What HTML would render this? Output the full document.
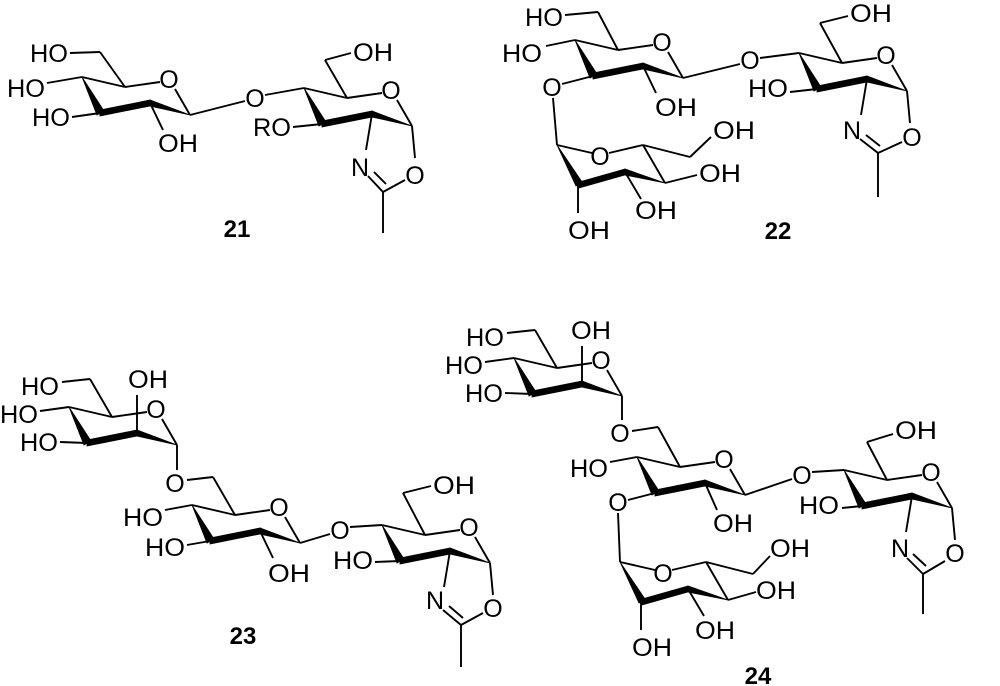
<!DOCTYPE html>
<html><head><meta charset="utf-8"><style>
html,body{margin:0;padding:0;background:#fff;}
svg{display:block;}
text{font-family:"Liberation Sans",sans-serif;font-size:25px;fill:#000;}
.e{text-anchor:end;}
.m{text-anchor:middle;}
.b{font-weight:bold;text-anchor:middle;font-size:24px;}
line{stroke:#000;stroke-width:1.9;}
polygon{fill:#000;stroke:#000;stroke-width:0.8;}
</style></head><body>
<svg width="1000" height="686" viewBox="0 0 1000 686" xmlns="http://www.w3.org/2000/svg">

<!-- ============ 21 ============ -->
<g transform="translate(125,87)">
 <line x1="0" y1="0" x2="-43" y2="-10"/>
 <polygon points="-43,-10 -21,24 -28,28"/>
 <polygon points="-25,23 25,13 25,19 -25,29"/>
 <polygon points="25,13 25,19 65,28"/>
 <line x1="0" y1="0" x2="35" y2="-5"/><line x1="50" y1="2" x2="65" y2="28"/>
 <text class="m" x="44" y="1">O</text>
 <line x1="0" y1="0" x2="-25" y2="-35"/><line x1="-25" y1="-35" x2="-55" y2="-34"/>
 <text class="e" x="-57" y="-25" textLength="38" lengthAdjust="spacingAndGlyphs">HO</text>
 <line x1="-43" y1="-10" x2="-78" y2="-4"/>
 <text class="e" x="-80" y="10" textLength="38" lengthAdjust="spacingAndGlyphs">HO</text>
 <line x1="-25" y1="26" x2="-53" y2="30"/>
 <text class="e" x="-55" y="39" textLength="38" lengthAdjust="spacingAndGlyphs">HO</text>
 <line x1="25" y1="16" x2="38" y2="43"/>
 <text x="33" y="65" textLength="40" lengthAdjust="spacingAndGlyphs">OH</text>
</g>
<line x1="190" y1="115" x2="245" y2="101"/>
<text class="m" x="255" y="107">O</text>
<line x1="265" y1="95" x2="304" y2="88"/>
<g transform="translate(347,98)">
 <line x1="0" y1="0" x2="-43" y2="-10"/>
 <polygon points="-43,-10 -21,24 -28,28"/>
 <polygon points="-25,23 25,13 25,19 -25,29"/>
 <polygon points="25,13 25,19 65,28"/>
 <line x1="0" y1="0" x2="35" y2="-5"/><line x1="50" y1="2" x2="65" y2="28"/>
 <text class="m" x="44" y="1">O</text>
 <line x1="0" y1="0" x2="-22" y2="-38"/><line x1="-22" y1="-38" x2="4" y2="-45"/>
 <text x="6" y="-37" textLength="40" lengthAdjust="spacingAndGlyphs">OH</text>
 <line x1="-25" y1="26" x2="-54" y2="29"/>
 <text class="e" x="-56" y="38" textLength="38" lengthAdjust="spacingAndGlyphs">RO</text>
 <line x1="25" y1="16" x2="19" y2="52"/>
 <text class="m" x="13" y="78">N</text>
 <line x1="65" y1="28" x2="68" y2="60"/>
 <text class="m" x="68" y="86">O</text>
 <line x1="21" y1="78" x2="36" y2="94"/><line x1="27" y1="74" x2="39" y2="86"/>
 <line x1="36" y1="94" x2="58" y2="82"/>
 <line x1="36" y1="94" x2="36" y2="135"/>
</g>
<text class="b" x="237" y="237">21</text>

<!-- ============ 22 ============ -->
<g transform="translate(618,50)">
 <line x1="0" y1="0" x2="-43" y2="-10"/>
 <polygon points="-43,-10 -21,24 -28,28"/>
 <polygon points="-25,23 25,13 25,19 -25,29"/>
 <polygon points="25,13 25,19 65,28"/>
 <line x1="0" y1="0" x2="35" y2="-5"/><line x1="50" y1="2" x2="65" y2="28"/>
 <text class="m" x="44" y="1">O</text>
 <line x1="0" y1="0" x2="-20" y2="-38"/><line x1="-20" y1="-38" x2="-53" y2="-35"/>
 <text class="e" x="-55" y="-24" textLength="38" lengthAdjust="spacingAndGlyphs">HO</text>
 <line x1="-43" y1="-10" x2="-72" y2="-4"/>
 <text class="e" x="-76" y="12" textLength="40" lengthAdjust="spacingAndGlyphs">HO</text>
 <line x1="-25" y1="26" x2="-56" y2="34"/>
 <text class="m" x="-66" y="46">O</text>
 <line x1="25" y1="16" x2="38" y2="43"/>
 <text x="37" y="66" textLength="42" lengthAdjust="spacingAndGlyphs">OH</text>
</g>
<line x1="683" y1="78" x2="740" y2="64"/>
<text class="m" x="750" y="69">O</text>
<line x1="760" y1="58" x2="799" y2="53"/>
<g transform="translate(842,63)">
 <line x1="0" y1="0" x2="-43" y2="-10"/>
 <polygon points="-43,-10 -21,24 -28,28"/>
 <polygon points="-25,23 25,13 25,19 -25,29"/>
 <polygon points="25,13 25,19 65,28"/>
 <line x1="0" y1="0" x2="35" y2="-5"/><line x1="50" y1="2" x2="65" y2="28"/>
 <text class="m" x="44" y="1">O</text>
 <line x1="0" y1="0" x2="-22" y2="-40"/><line x1="-22" y1="-40" x2="6" y2="-47"/>
 <text x="8" y="-41" textLength="42" lengthAdjust="spacingAndGlyphs">OH</text>
 <line x1="-25" y1="26" x2="-52" y2="29"/>
 <text class="e" x="-54" y="34" textLength="40" lengthAdjust="spacingAndGlyphs">HO</text>
 <line x1="25" y1="16" x2="19" y2="52"/>
 <text class="m" x="10" y="76">N</text>
 <line x1="65" y1="28" x2="68" y2="60"/>
 <text class="m" x="70" y="83">O</text>
 <line x1="18" y1="76" x2="36" y2="90"/><line x1="24" y1="72" x2="38" y2="83"/>
 <line x1="36" y1="90" x2="60" y2="79"/>
 <line x1="36" y1="90" x2="36" y2="134"/>
</g>
<line x1="553" y1="98" x2="557" y2="145"/>
<g transform="translate(557,145)">
 <line x1="0" y1="0" x2="35" y2="8"/>
 <text class="m" x="43" y="20">O</text>
 <line x1="52" y1="8" x2="86" y2="0"/>
 <line x1="86" y1="0" x2="108" y2="38"/>
 <polygon points="108,38 68,24 68,30"/>
 <polygon points="68,24 68,30 22,43 22,37"/>
 <polygon points="0,0 19,41 25,37"/>
 <line x1="86" y1="0" x2="133" y2="12"/><line x1="133" y1="12" x2="154" y2="-8"/>
 <text x="156" y="-6" textLength="42" lengthAdjust="spacingAndGlyphs">OH</text>
 <line x1="108" y1="38" x2="140" y2="30"/>
 <text x="142" y="37" textLength="42" lengthAdjust="spacingAndGlyphs">OH</text>
 <line x1="68" y1="27" x2="84" y2="54"/>
 <text x="78" y="74" textLength="42" lengthAdjust="spacingAndGlyphs">OH</text>
 <line x1="21" y1="40" x2="21" y2="68"/>
 <text x="11" y="94" textLength="42" lengthAdjust="spacingAndGlyphs">OH</text>
</g>
<text class="b" x="778" y="239">22</text>

<!-- ============ 23 ============ -->
<g transform="translate(112,417)">
 <line x1="0" y1="0" x2="-43" y2="-10"/>
 <polygon points="-43,-10 -21,24 -28,28"/>
 <polygon points="-25,23 25,13 25,19 -25,29"/>
 <polygon points="25,13 25,19 65,28"/>
 <line x1="0" y1="0" x2="35" y2="-5"/><line x1="50" y1="2" x2="65" y2="28"/>
 <text class="m" x="44" y="1">O</text>
 <line x1="25" y1="16" x2="25" y2="-22"/>
 <text x="16" y="-29" textLength="40" lengthAdjust="spacingAndGlyphs">OH</text>
 <line x1="0" y1="0" x2="-22" y2="-38"/><line x1="-22" y1="-38" x2="-50" y2="-35"/>
 <text class="e" x="-53" y="-22" textLength="38" lengthAdjust="spacingAndGlyphs">HO</text>
 <line x1="-43" y1="-10" x2="-72" y2="-6"/>
 <text class="e" x="-74" y="6" textLength="38" lengthAdjust="spacingAndGlyphs">HO</text>
 <line x1="-25" y1="26" x2="-52" y2="25"/>
 <text class="e" x="-54" y="34" textLength="38" lengthAdjust="spacingAndGlyphs">HO</text>
</g>
<line x1="177" y1="445" x2="177" y2="470"/>
<text class="m" x="175" y="492">O</text>
<line x1="187" y1="480" x2="213" y2="477"/>
<g transform="translate(235,515)">
 <line x1="0" y1="0" x2="-43" y2="-10"/>
 <polygon points="-43,-10 -21,24 -28,28"/>
 <polygon points="-25,23 25,13 25,19 -25,29"/>
 <polygon points="25,13 25,19 65,28"/>
 <line x1="0" y1="0" x2="35" y2="-5"/><line x1="50" y1="2" x2="65" y2="28"/>
 <text class="m" x="44" y="1">O</text>
 <line x1="0" y1="0" x2="-22" y2="-38"/>
 <line x1="-43" y1="-10" x2="-70" y2="-5"/>
 <text class="e" x="-72" y="11" textLength="40" lengthAdjust="spacingAndGlyphs">HO</text>
 <line x1="-25" y1="26" x2="-48" y2="30"/>
 <text class="e" x="-50" y="41" textLength="40" lengthAdjust="spacingAndGlyphs">HO</text>
 <line x1="25" y1="16" x2="38" y2="43"/>
 <text x="33" y="67" textLength="42" lengthAdjust="spacingAndGlyphs">OH</text>
</g>
<line x1="300" y1="543" x2="330" y2="534"/>
<text class="m" x="340" y="539">O</text>
<line x1="350" y1="527" x2="382" y2="525"/>
<g transform="translate(425,535)">
 <line x1="0" y1="0" x2="-43" y2="-10"/>
 <polygon points="-43,-10 -21,24 -28,28"/>
 <polygon points="-25,23 25,13 25,19 -25,29"/>
 <polygon points="25,13 25,19 65,28"/>
 <line x1="0" y1="0" x2="35" y2="-5"/><line x1="50" y1="2" x2="65" y2="28"/>
 <text class="m" x="44" y="1">O</text>
 <line x1="0" y1="0" x2="-22" y2="-42"/><line x1="-22" y1="-42" x2="6" y2="-49"/>
 <text x="8" y="-41" textLength="42" lengthAdjust="spacingAndGlyphs">OH</text>
 <line x1="-25" y1="26" x2="-50" y2="27"/>
 <text class="e" x="-52" y="34" textLength="40" lengthAdjust="spacingAndGlyphs">HO</text>
 <line x1="25" y1="16" x2="19" y2="52"/>
 <text class="m" x="10" y="74">N</text>
 <line x1="65" y1="28" x2="68" y2="60"/>
 <text class="m" x="68" y="82">O</text>
 <line x1="18" y1="75" x2="36" y2="90"/><line x1="24" y1="71" x2="38" y2="83"/>
 <line x1="36" y1="90" x2="58" y2="78"/>
 <line x1="36" y1="90" x2="36" y2="132"/>
</g>
<text class="b" x="243" y="644">23</text>

<!-- ============ 24 ============ -->
<g transform="translate(557,368)">
 <line x1="0" y1="0" x2="-43" y2="-10"/>
 <polygon points="-43,-10 -21,24 -28,28"/>
 <polygon points="-25,23 25,13 25,19 -25,29"/>
 <polygon points="25,13 25,19 65,28"/>
 <line x1="0" y1="0" x2="35" y2="-5"/><line x1="50" y1="2" x2="65" y2="28"/>
 <text class="m" x="44" y="1">O</text>
 <line x1="25" y1="16" x2="25" y2="-22"/>
 <text x="14" y="-29" textLength="40" lengthAdjust="spacingAndGlyphs">OH</text>
 <line x1="0" y1="0" x2="-22" y2="-38"/><line x1="-22" y1="-38" x2="-50" y2="-35"/>
 <text class="e" x="-53" y="-22" textLength="38" lengthAdjust="spacingAndGlyphs">HO</text>
 <line x1="-43" y1="-10" x2="-72" y2="-6"/>
 <text class="e" x="-74" y="6" textLength="38" lengthAdjust="spacingAndGlyphs">HO</text>
 <line x1="-25" y1="26" x2="-52" y2="25"/>
 <text class="e" x="-54" y="34" textLength="38" lengthAdjust="spacingAndGlyphs">HO</text>
</g>
<line x1="622" y1="396" x2="622" y2="420"/>
<text class="m" x="620" y="442">O</text>
<line x1="632" y1="431" x2="658" y2="427"/>
<g transform="translate(680,467)">
 <line x1="0" y1="0" x2="-43" y2="-10"/>
 <polygon points="-43,-10 -21,24 -28,28"/>
 <polygon points="-25,23 25,13 25,19 -25,29"/>
 <polygon points="25,13 25,19 65,28"/>
 <line x1="0" y1="0" x2="35" y2="-5"/><line x1="50" y1="2" x2="65" y2="28"/>
 <text class="m" x="44" y="1">O</text>
 <line x1="0" y1="0" x2="-22" y2="-40"/>
 <line x1="-43" y1="-10" x2="-70" y2="-5"/>
 <text class="e" x="-72" y="10" textLength="38" lengthAdjust="spacingAndGlyphs">HO</text>
 <line x1="-25" y1="26" x2="-52" y2="33"/>
 <text class="m" x="-62" y="44">O</text>
 <line x1="25" y1="16" x2="37" y2="43"/>
 <text x="33" y="65" textLength="40" lengthAdjust="spacingAndGlyphs">OH</text>
</g>
<line x1="618" y1="513" x2="620" y2="562"/>
<line x1="745" y1="495" x2="792" y2="479"/>
<text class="m" x="802" y="484">O</text>
<line x1="812" y1="472" x2="844" y2="470"/>
<g transform="translate(887,480)">
 <line x1="0" y1="0" x2="-43" y2="-10"/>
 <polygon points="-43,-10 -21,24 -28,28"/>
 <polygon points="-25,23 25,13 25,19 -25,29"/>
 <polygon points="25,13 25,19 65,28"/>
 <line x1="0" y1="0" x2="35" y2="-5"/><line x1="50" y1="2" x2="65" y2="28"/>
 <text class="m" x="44" y="1">O</text>
 <line x1="0" y1="0" x2="-20" y2="-38"/><line x1="-20" y1="-38" x2="6" y2="-46"/>
 <text x="8" y="-41" textLength="42" lengthAdjust="spacingAndGlyphs">OH</text>
 <line x1="-25" y1="26" x2="-45" y2="28"/>
 <text class="e" x="-48" y="34" textLength="40" lengthAdjust="spacingAndGlyphs">HO</text>
 <line x1="25" y1="16" x2="19" y2="52"/>
 <text class="m" x="13" y="77">N</text>
 <line x1="65" y1="28" x2="68" y2="60"/>
 <text class="m" x="68" y="82">O</text>
 <line x1="20" y1="78" x2="36" y2="94"/><line x1="26" y1="74" x2="39" y2="86"/>
 <line x1="36" y1="94" x2="58" y2="81"/>
 <line x1="36" y1="94" x2="36" y2="134"/>
</g>
<g transform="translate(620,562)">
 <line x1="0" y1="0" x2="35" y2="8"/>
 <text class="m" x="43" y="20">O</text>
 <line x1="52" y1="8" x2="86" y2="0"/>
 <line x1="86" y1="0" x2="108" y2="38"/>
 <polygon points="108,38 68,24 68,30"/>
 <polygon points="68,24 68,30 22,43 22,37"/>
 <polygon points="0,0 19,41 25,37"/>
 <line x1="86" y1="0" x2="133" y2="12"/><line x1="133" y1="12" x2="150" y2="-6"/>
 <text x="150" y="-5" textLength="40" lengthAdjust="spacingAndGlyphs">OH</text>
 <line x1="108" y1="38" x2="136" y2="30"/>
 <text x="136" y="37" textLength="40" lengthAdjust="spacingAndGlyphs">OH</text>
 <line x1="68" y1="27" x2="84" y2="54"/>
 <text x="75" y="77" textLength="40" lengthAdjust="spacingAndGlyphs">OH</text>
 <line x1="21" y1="40" x2="21" y2="68"/>
 <text x="12" y="94" textLength="40" lengthAdjust="spacingAndGlyphs">OH</text>
</g>
<text class="b" x="758" y="684">24</text>
</svg>
</body></html>
